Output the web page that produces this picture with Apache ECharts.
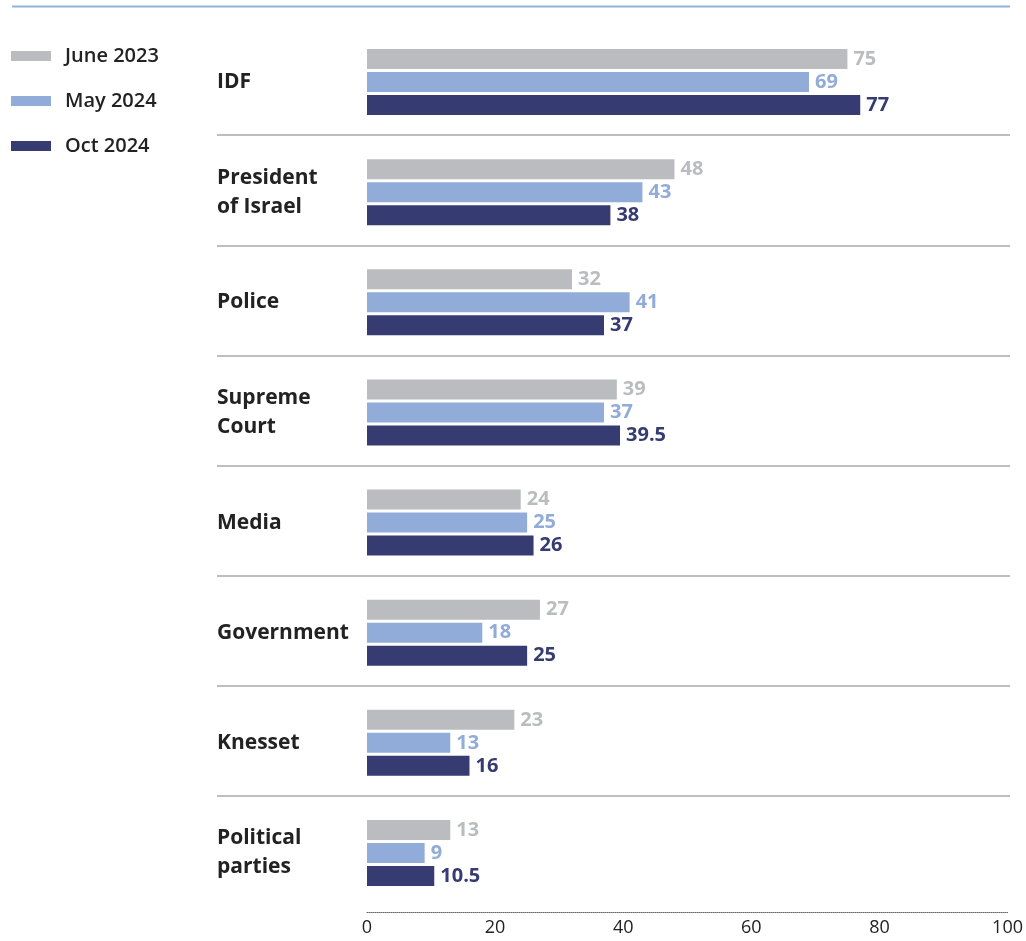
<!DOCTYPE html>
<html>
<head>
<meta charset="utf-8">
<script src="https://cdn.jsdelivr.net/npm/echarts@6/dist/echarts.min.js"></script>
<style>
html,body{margin:0;padding:0;background:#fff;}
#c{width:1026px;height:941px;}
</style>
</head>
<body>
<div id="c"></div>
<script>
const categories = ['IDF', 'President\nof Israel', 'Police', 'Supreme\nCourt', 'Media', 'Government', 'Knesset', 'Political\nparties'];
const seriesNames = ['June 2023', 'May 2024', 'Oct 2024'];
const june2023 = [75, 48, 32, 39, 24, 27, 23, 13];
const may2024 = [69, 43, 41, 37, 25, 18, 13, 9];
const oct2024 = [77, 38, 37, 39.5, 26, 25, 16, 10.5];
const xTicks = [0, 20, 40, 60, 80, 100];

const colors = ['#bbbcbf', '#91acd8', '#363b72'];
const FONT = '"Open Sans", "Noto Sans", sans-serif';

const chart = echarts.init(document.getElementById('c'), null, {renderer: 'canvas'});

function barSeries(name, data, color) {
  return {
    name: name,
    type: 'bar',
    xAxisIndex: 0,
    yAxisIndex: 0,
    data: data,
    barWidth: 20,
    barGap: '15%',
    itemStyle: {color: color},
    label: {
      show: true,
      position: 'right',
      distance: 6,
      color: color,
      fontFamily: FONT,
      fontSize: 20,
      fontWeight: 'bold',
      formatter: p => String(p.value)
    },
    emphasis: {disabled: true},
    z: 3
  };
}

const option = {
  animation: false,
  backgroundColor: '#ffffff',
  textStyle: {fontFamily: FONT},
  graphic: [{
    type: 'line',
    shape: {x1: 12, y1: 6.5, x2: 1010, y2: 6.5},
    style: {stroke: '#8fb3dd', lineWidth: 2}
  }],
  legend: {
    orient: 'vertical',
    left: 11,
    top: 44,
    padding: 0,
    itemWidth: 40,
    itemHeight: 10,
    itemGap: 21,
    icon: 'rect',
    data: seriesNames,
    textStyle: {
      fontFamily: FONT,
      fontSize: 20,
      fontWeight: 600,
      color: '#222',
      lineHeight: 24,
      padding: [0, 0, 0, 9]
    },
    selectedMode: false
  },
  grid: [
    {left: 367, right: 14, top: 27, bottom: 33, containLabel: false},
    {left: 217, right: 16, top: 25, bottom: 35, containLabel: false}
  ],
  xAxis: [{
    type: 'value',
    gridIndex: 0,
    min: 0,
    max: 100,
    interval: 20,
    offset: 4,
    axisLine: {show: true, lineStyle: {color: '#666', type: 'dotted', width: 1}},
    axisTick: {show: false},
    splitLine: {show: false},
    axisLabel: {
      color: '#222',
      fontFamily: FONT,
      fontSize: 18,
      margin: 7,
      formatter: v => xTicks.indexOf(v) >= 0 ? String(v) : ''
    }
  }, {
    type: 'value',
    gridIndex: 1,
    show: false
  }],
  yAxis: [{
    type: 'category',
    gridIndex: 0,
    data: categories,
    inverse: true,
    axisLine: {show: false},
    axisTick: {show: false},
    splitLine: {show: false},
    axisLabel: {
      align: 'left',
      margin: 150,
      color: '#222',
      fontFamily: FONT,
      fontSize: 21,
      fontWeight: 'bold',
      lineHeight: 29
    }
  }, {
    type: 'value',
    gridIndex: 1,
    min: 0,
    max: 8,
    interval: 1,
    inverse: true,
    axisLine: {show: false},
    axisTick: {show: false},
    axisLabel: {show: false},
    splitLine: {
      show: true,
      showMinLine: false,
      showMaxLine: false,
      lineStyle: {color: '#a9a9a9', width: 1.5}
    }
  }],
  series: [
    barSeries(seriesNames[0], june2023, colors[0]),
    barSeries(seriesNames[1], may2024, colors[1]),
    barSeries(seriesNames[2], oct2024, colors[2])
  ]
};
chart.setOption(option);
</script>
</body>
</html>
